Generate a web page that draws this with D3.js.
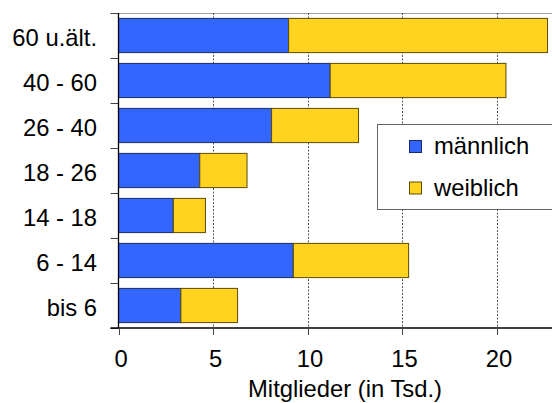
<!DOCTYPE html>
<html>
<head>
<meta charset="utf-8">
<script src="https://cdn.jsdelivr.net/npm/d3@7"></script>
<style>
  html, body { margin: 0; padding: 0; background: #ffffff; }
  svg { display: block; font-family: "Liberation Sans", Arial, sans-serif; }
</style>
</head>
<body>
<svg id="chart" width="552" height="403"></svg>
<script>
// Age groups, top to bottom
const categories = ["60 u.ält.", "40 - 60", "26 - 40", "18 - 26", "14 - 18", "6 - 14", "bis 6"];
// Members in thousands
const maennlich = [9.0, 11.2, 8.1, 4.3, 2.9, 9.25, 3.3];
const weiblich  = [13.7, 9.3, 4.6, 2.5, 1.7, 6.1, 3.0];
const seriesNames = ["männlich", "weiblich"];
const xTicks = [0, 5, 10, 15, 20];
const xTitle = "Mitglieder (in Tsd.)";

const colors = ["#3366ff", "#ffd320"];
const strokes = ["#1c2a66", "#5c4c00"];

const svg = d3.select("#chart");
const fontSize = 23.8;

const plotLeft = 118.5, plotTop = 13, plotBottom = 328;
const x = d3.scaleLinear().domain([0, 23]).range([plotLeft, plotLeft + 23 * 18.9]);
const y = d3.scaleBand().domain(categories).range([plotTop, plotBottom])
  .paddingInner(0.24).paddingOuter(0.12);

const rows = categories.map((c, i) => ({ cat: c, values: [maennlich[i], weiblich[i]] }));
const stacked = d3.stack().keys([0, 1]).value((d, k) => d.values[k])(rows);

// top frame line
svg.append("line")
  .attr("x1", plotLeft).attr("x2", 552).attr("y1", plotTop + 0.5).attr("y2", plotTop + 0.5)
  .attr("stroke", "#a0a0a0").attr("stroke-width", 1);

// vertical dashed gridlines
svg.append("g").selectAll("line")
  .data(xTicks.filter(t => t > 0))
  .join("line")
  .attr("x1", d => Math.round(x(d)) + 0.5).attr("x2", d => Math.round(x(d)) + 0.5)
  .attr("y1", plotTop).attr("y2", plotBottom)
  .attr("stroke", "#555").attr("stroke-width", 1)
  .attr("stroke-dasharray", "2,1.5");

// stacked bars
svg.append("g").selectAll("g")
  .data(stacked)
  .join("g")
  .attr("fill", (d, i) => colors[i])
  .attr("stroke", (d, i) => strokes[i])
  .selectAll("rect")
  .data(d => d)
  .join("rect")
  .attr("x", d => x(d[0]))
  .attr("width", d => x(d[1]) - x(d[0]))
  .attr("y", d => y(d.data.cat))
  .attr("height", y.bandwidth())
  .attr("stroke-width", 1);

// left axis: boundary ticks between bands
const bounds = d3.range(categories.length + 1).map(i => plotTop + i * y.step());
svg.append("g").selectAll("line")
  .data(bounds)
  .join("line")
  .attr("x1", plotLeft - 8).attr("x2", plotLeft)
  .attr("y1", d => Math.round(d) + 0.5).attr("y2", d => Math.round(d) + 0.5)
  .attr("stroke", "#444").attr("stroke-width", 1);

svg.append("line")
  .attr("x1", plotLeft).attr("x2", plotLeft).attr("y1", plotTop).attr("y2", plotBottom)
  .attr("stroke", "#000").attr("stroke-width", 1.3);

// category labels
svg.append("g").selectAll("text")
  .data(categories)
  .join("text")
  .attr("x", 97)
  .attr("y", d => y(d) + y.bandwidth() / 2 + 10)
  .attr("text-anchor", "end")
  .attr("font-size", fontSize)
  .attr("fill", "#000")
  .text(d => d);

// bottom axis
svg.append("line")
  .attr("x1", plotLeft - 8).attr("x2", 552).attr("y1", plotBottom).attr("y2", plotBottom)
  .attr("stroke", "#000").attr("stroke-width", 1.3);

svg.append("g").selectAll("line")
  .data(xTicks)
  .join("line")
  .attr("x1", d => Math.round(x(d)) + 0.5).attr("x2", d => Math.round(x(d)) + 0.5)
  .attr("y1", plotBottom).attr("y2", plotBottom + 7)
  .attr("stroke", "#444").attr("stroke-width", 1);

svg.append("g").selectAll("text")
  .data(xTicks)
  .join("text")
  .attr("x", d => x(d) + 2.5)
  .attr("y", 366.5)
  .attr("text-anchor", "middle")
  .attr("font-size", fontSize)
  .attr("fill", "#000")
  .text(d => d);

svg.append("text")
  .attr("x", 345).attr("y", 396.5)
  .attr("text-anchor", "middle")
  .attr("font-size", fontSize)
  .attr("fill", "#000")
  .text(xTitle);

// legend
const lg = svg.append("g");
lg.append("rect")
  .attr("x", 377.5).attr("y", 124.5).attr("width", 190).attr("height", 85)
  .attr("fill", "#fff").attr("stroke", "#666").attr("stroke-width", 1);
const items = lg.selectAll("g.item")
  .data(seriesNames)
  .join("g").attr("class", "item");
items.append("rect")
  .attr("x", 409.5)
  .attr("y", (d, i) => 140.5 + i * 41.5)
  .attr("width", 12).attr("height", 12)
  .attr("fill", (d, i) => colors[i])
  .attr("stroke", (d, i) => strokes[i]);
items.append("text")
  .attr("x", 434)
  .attr("y", (d, i) => 154.3 + i * 41.7)
  .attr("font-size", fontSize)
  .attr("fill", "#000")
  .text(d => d);
</script>
</body>
</html>
